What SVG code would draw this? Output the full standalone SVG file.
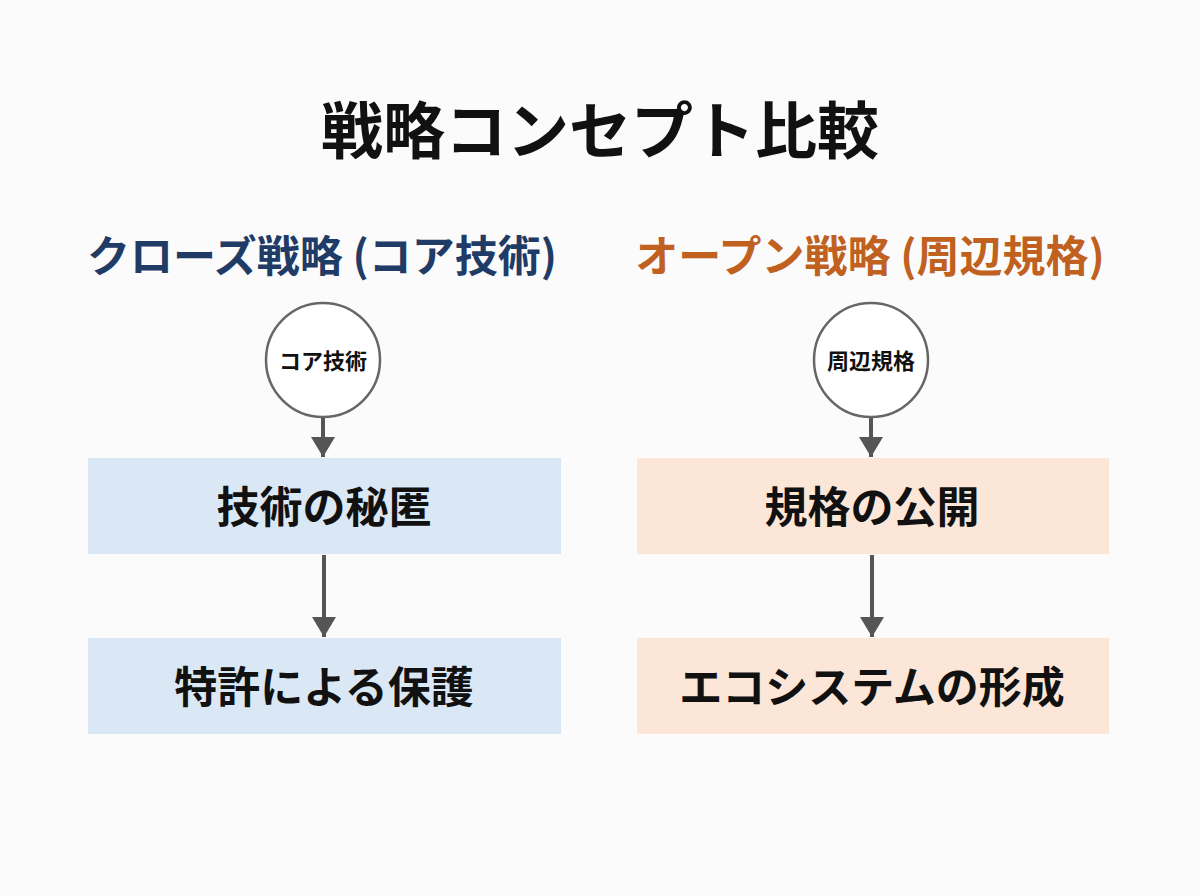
<svg xmlns="http://www.w3.org/2000/svg" width="1200" height="896" viewBox="0 0 1200 896">
<defs>
<style>
text{font-family:"Noto Sans CJK JP","Noto Sans CJK SC",sans-serif;font-weight:700;text-anchor:middle;dominant-baseline:central}
.title{font-size:62px;fill:#111}
.hl{font-size:43px;fill:#1f3b66}
.hr{font-size:43px;fill:#c0611f}
.circ{fill:#fff;stroke:#666;stroke-width:2.5}
.ct{font-size:22px;fill:#111}
.bl{fill:#dae7f5}
.br{fill:#fbe6d8}
.bt{font-size:43px;fill:#111}
.con{stroke:#555;stroke-width:4;fill:none}
</style>
<marker id="ah" markerWidth="6" markerHeight="6" refX="5" refY="3" orient="auto" markerUnits="strokeWidth">
<path d="M0,0 L5,3 L0,6 Z" fill="#555"/>
</marker>
</defs>
<rect width="1200" height="896" fill="#fbfbfb"/>
<text class="title" x="600" y="127">戦略コンセプト比較</text>
<g id="header-left"><text class="hl" x="322" y="253">クローズ戦略 (コア技術)</text></g>
<g id="header-right"><text class="hr" x="870" y="253">オープン戦略 (周辺規格)</text></g>
<g id="connectors">
<line class="con" x1="323" y1="418" x2="323" y2="457" marker-end="url(#ah)"/>
<line class="con" x1="324" y1="555" x2="324" y2="637" marker-end="url(#ah)"/>
<line class="con" x1="871" y1="418" x2="871" y2="457" marker-end="url(#ah)"/>
<line class="con" x1="872" y1="555" x2="872" y2="637" marker-end="url(#ah)"/>
</g>
<g id="core"><circle class="circ" cx="323" cy="360" r="57"/><text class="ct" x="323" y="359">コア技術</text></g>
<g id="peripheral"><circle class="circ" cx="871" cy="360" r="57"/><text class="ct" x="871" y="359">周辺規格</text></g>
<g id="secrecy"><rect class="bl" x="88" y="458" width="473" height="96"/><text class="bt" x="324" y="504">技術の秘匿</text></g>
<g id="patent"><rect class="bl" x="88" y="638" width="473" height="96"/><text class="bt" x="324" y="684">特許による保護</text></g>
<g id="publish"><rect class="br" x="637" y="458" width="472" height="96"/><text class="bt" x="872" y="504">規格の公開</text></g>
<g id="ecosystem"><rect class="br" x="637" y="638" width="472" height="96"/><text class="bt" x="872" y="684">エコシステムの形成</text></g>
</svg>
